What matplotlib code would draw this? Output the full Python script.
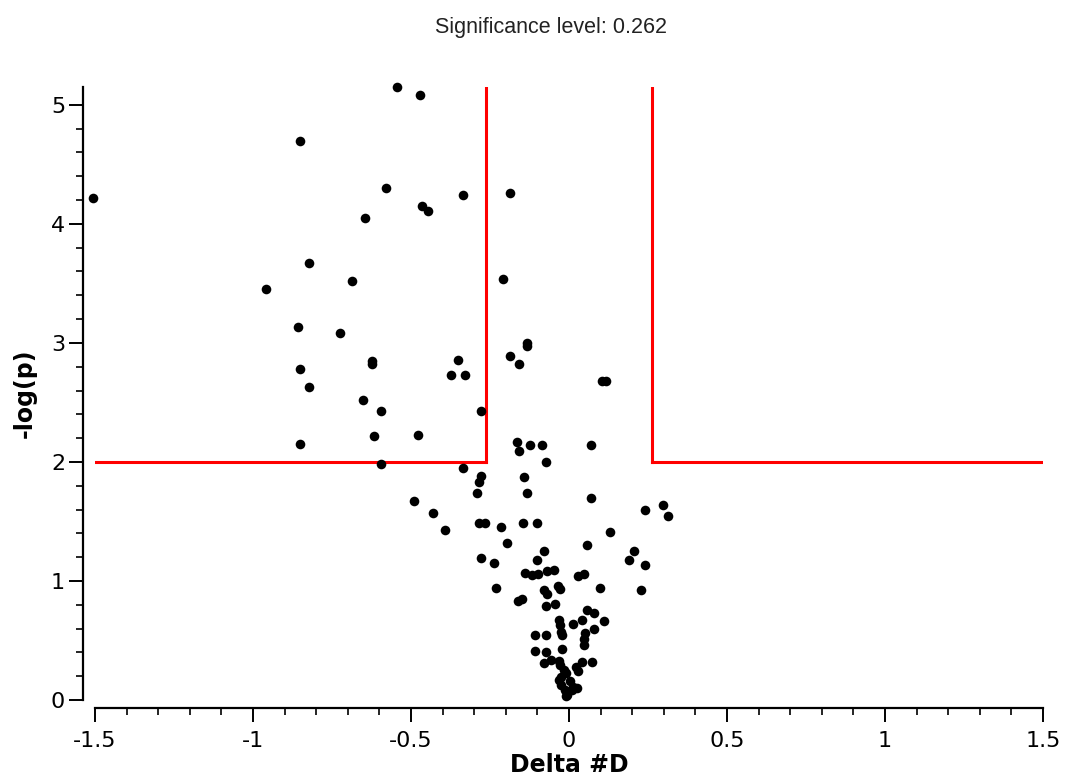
import matplotlib
matplotlib.use('Agg')
from matplotlib import pyplot as plt
from matplotlib.ticker import MultipleLocator

##### Data #####
SIG_LEVEL = 0.262
P_CUTOFF  = 2.0

delta_d = [-0.544, -0.473, -0.851, -1.505, -0.580, -0.336, -0.186, -0.466, -0.445, -0.644,
           -0.822, -0.958, -0.687, -0.208, -0.859, -0.726, -0.134, -0.134, -0.851, -0.624,
           -0.624, -0.351, -0.373, -0.330, -0.186, -0.158, -0.822, -0.651, -0.594, -0.279,
           -0.616, -0.479, -0.851, -0.165, -0.158, -0.122, -0.086, 0.070, -0.594, -0.336,
           -0.072, -0.279, -0.284, -0.292, -0.143, -0.134, 0.070, 0.104, 0.116, -0.489,
           -0.430, -0.393, -0.286, -0.265, -0.216, -0.147, -0.100, -0.195, -0.279, -0.236,
           -0.078, -0.102, -0.139, -0.118, -0.097, -0.070, -0.049, -0.230, -0.035, -0.028,
           -0.078, -0.070, -0.160, -0.149, -0.072, -0.044, -0.031, -0.028, -0.025, -0.023,
           -0.108, -0.073, -0.021, -0.109, -0.073, -0.078, -0.056, -0.027, -0.017, -0.024,
           -0.011, -0.033, -0.024, -0.005, -0.008, 0.021, 0.041, 0.072, 0.030, 0.014,
           0.025, 0.009, 0.012, 0.041, 0.111, 0.050, 0.078, 0.049, 0.049, 0.056,
           0.078, 0.028, 0.049, 0.099, 0.228, 0.058, 0.131, 0.206, 0.191, 0.239,
           0.241, 0.299, 0.314, -0.032, 0.002, -0.014]

neg_log_p = [5.15, 5.08, 4.70, 4.22, 4.30, 4.24, 4.26, 4.15, 4.11, 4.05,
             3.67, 3.45, 3.52, 3.54, 3.13, 3.08, 3.00, 2.97, 2.78, 2.85,
             2.82, 2.86, 2.73, 2.73, 2.89, 2.82, 2.63, 2.52, 2.43, 2.43,
             2.22, 2.23, 2.15, 2.17, 2.09, 2.14, 2.14, 2.14, 1.98, 1.95,
             2.00, 1.88, 1.83, 1.74, 1.87, 1.74, 1.70, 2.68, 2.68, 1.67,
             1.57, 1.43, 1.49, 1.49, 1.45, 1.49, 1.49, 1.32, 1.19, 1.15,
             1.25, 1.18, 1.07, 1.05, 1.06, 1.08, 1.09, 0.94, 0.96, 0.93,
             0.92, 0.89, 0.83, 0.85, 0.79, 0.81, 0.67, 0.63, 0.57, 0.55,
             0.55, 0.55, 0.43, 0.41, 0.40, 0.31, 0.34, 0.29, 0.25, 0.19,
             0.23, 0.17, 0.13, 0.04, 0.03, 0.28, 0.32, 0.32, 0.24, 0.11,
             0.10, 0.08, 0.64, 0.67, 0.66, 0.56, 0.60, 0.51, 0.46, 0.76,
             0.73, 1.04, 1.06, 0.94, 0.92, 1.30, 1.41, 1.25, 1.18, 1.13,
             1.60, 1.64, 1.55, 0.33, 0.16, 0.08]

X_MIN, X_MAX = -1.5, 1.5
Y_MAX = 5.15

##### Plot #####
fig = plt.figure(figsize=(10.7, 7.83), dpi=100)
ax = fig.add_axes([95 / 1070, 1 - 700 / 783, 948 / 1070, 613 / 783])

ax.scatter(delta_d, neg_log_p, s=48, color='black', zorder=3, linewidths=0, clip_on=False)

# significance box
red = dict(color='#ff0000', lw=2.2, zorder=2)
ax.plot([X_MIN, -SIG_LEVEL], [P_CUTOFF, P_CUTOFF], **red)
ax.plot([-SIG_LEVEL, -SIG_LEVEL], [P_CUTOFF, Y_MAX], **red)
ax.plot([SIG_LEVEL, SIG_LEVEL], [P_CUTOFF, Y_MAX], **red)
ax.plot([SIG_LEVEL, X_MAX], [P_CUTOFF, P_CUTOFF], **red)

ax.set_xlim(X_MIN, X_MAX)
ax.set_ylim(0, Y_MAX)

for side in ['top', 'right']:
	ax.spines[side].set_visible(False)
ax.spines['left'].set_position(('outward', 8.5))
ax.spines['bottom'].set_position(('outward', 6))
ax.spines['left'].set_linewidth(1.6)
ax.spines['bottom'].set_linewidth(1.6)

ax.xaxis.set_minor_locator(MultipleLocator(0.1))
ax.yaxis.set_major_locator(MultipleLocator(1))
ax.yaxis.set_minor_locator(MultipleLocator(0.2))
ax.set_xticks([-1.5, -1, -0.5, 0, 0.5, 1, 1.5])
ax.set_xticklabels(['-1.5', '-1', '-0.5', '0', '0.5', '1', '1.5'])

ax.tick_params(axis='both', which='major', length=10, width=1.4, labelsize=16)
ax.tick_params(axis='x', which='major', pad=6)
ax.tick_params(axis='y', which='major', pad=3)
ax.tick_params(axis='both', which='minor', length=5, width=1.2)

ax.set_xlabel('Delta #D', fontsize=17, fontweight='bold', labelpad=2)
ax.set_ylabel('-log(p)', fontsize=17, fontweight='bold', labelpad=10)

fig.text(551 / 1070, 1 - 27 / 783, 'Significance level: ' + str(SIG_LEVEL),
         ha='center', va='center', fontsize=15.5, color='#222222', family='Liberation Sans')

plt.savefig('out.png', dpi=100)
plt.clf()
